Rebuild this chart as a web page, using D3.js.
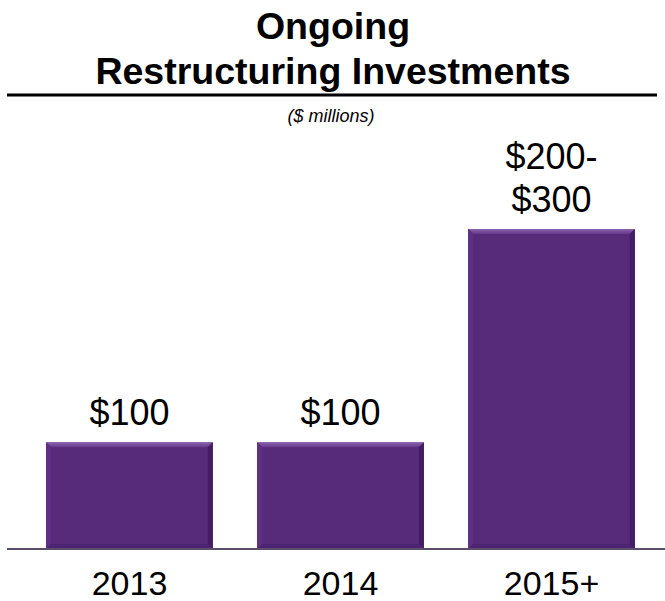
<!DOCTYPE html>
<html>
<head>
<meta charset="utf-8">
<script src="https://cdn.jsdelivr.net/npm/d3@7/dist/d3.min.js"></script>
<style>
  html, body { margin: 0; padding: 0; background: #fff; }
  svg { display: block; font-family: "Liberation Sans", Arial, sans-serif; }
</style>
</head>
<body>
<svg id="chart" width="665" height="601"></svg>
<script>
// Ongoing restructuring investments, $ millions
const categories = ["2013", "2014", "2015+"];
const valuesLow  = [100, 100, 200];
const valuesHigh = [100, 100, 300];
const valueLabels = [["$100"], ["$100"], ["$200-", "$300"]];
const titleLines = ["Ongoing", "Restructuring Investments"];
const subtitle = "($ millions)";

const W = 665, H = 601;
const baseY = 549;

const svg = d3.select("#chart");

const x = d3.scaleBand()
  .domain(categories)
  .range([25, 656])
  .paddingInner(0.21)
  .paddingOuter(0.1);

const y = d3.scaleLinear()
  .domain([0, 300])
  .range([baseY, 229]);

// Title
const title = svg.append("text")
  .attr("text-anchor", "middle")
  .attr("font-weight", "bold")
  .attr("font-size", 37.5)
  .attr("fill", "#000");
titleLines.forEach((t, i) => {
  title.append("tspan").attr("x", 333).attr("y", 39 + i * 45).text(t);
});

svg.append("line")
  .attr("x1", 7).attr("x2", 657)
  .attr("y1", 95).attr("y2", 95)
  .attr("stroke", "#000").attr("stroke-width", 3);

svg.append("text")
  .attr("x", 331).attr("y", 122)
  .attr("text-anchor", "middle")
  .attr("font-style", "italic")
  .attr("font-size", 18)
  .text(subtitle);

// Bars with a bevelled look
const defs = svg.append("defs");
const topGrad = defs.append("linearGradient").attr("id", "topBevel")
  .attr("x1", 0).attr("y1", 0).attr("x2", 0).attr("y2", 1);
topGrad.append("stop").attr("offset", "0%").attr("stop-color", "#8b63ae");
topGrad.append("stop").attr("offset", "100%").attr("stop-color", "#65388b");

const bars = svg.append("g").selectAll("g")
  .data(categories.map((c, i) => ({ c, hi: valuesHigh[i], lo: valuesLow[i], lab: valueLabels[i] })))
  .join("g");

const bev = 5;
bars.each(function(d) {
  const g = d3.select(this);
  const x0 = x(d.c), x1 = x0 + x.bandwidth();
  const y0 = y(d.hi), y1 = y(0);
  g.append("rect")
    .attr("x", x0).attr("y", y0)
    .attr("width", x1 - x0).attr("height", y1 - y0)
    .attr("fill", "#572a7a");
  // top edge
  g.append("path")
    .attr("d", `M${x0},${y0}L${x1},${y0}L${x1 - bev},${y0 + bev}L${x0 + bev},${y0 + bev}Z`)
    .attr("fill", "url(#topBevel)");
  // left edge
  g.append("path")
    .attr("d", `M${x0},${y0}L${x0 + bev},${y0 + bev}L${x0 + bev},${y1 - bev}L${x0},${y1}Z`)
    .attr("fill", "#5e2f83");
  // right edge
  g.append("path")
    .attr("d", `M${x1},${y0}L${x1},${y1}L${x1 - bev},${y1 - bev}L${x1 - bev},${y0 + bev}Z`)
    .attr("fill", "#431e64");
  // bottom edge
  g.append("path")
    .attr("d", `M${x0},${y1}L${x1},${y1}L${x1 - bev},${y1 - bev}L${x0 + bev},${y1 - bev}Z`)
    .attr("fill", "#4d2472");

  // value label
  const t = g.append("text")
    .attr("text-anchor", "middle")
    .attr("font-size", 36)
    .attr("fill", "#000");
  const n = d.lab.length;
  d.lab.forEach((s, k) => {
    t.append("tspan")
      .attr("x", (x0 + x1) / 2)
      .attr("y", y0 - 17 - (n - 1 - k) * 43)
      .text(s);
  });
});

// Baseline
svg.append("line")
  .attr("x1", 7).attr("x2", W)
  .attr("y1", baseY).attr("y2", baseY)
  .attr("stroke", "#5c4d6a").attr("stroke-width", 2);

// Category axis
const axis = svg.append("g")
  .attr("transform", `translate(0,${baseY})`)
  .call(d3.axisBottom(x).tickSize(0).tickPadding(0));
axis.select(".domain").remove();
axis.selectAll("text")
  .attr("font-size", 34)
  .attr("font-family", "Liberation Sans, Arial, sans-serif")
  .attr("fill", "#000")
  .attr("dy", null)
  .attr("y", 46);
</script>
</body>
</html>
